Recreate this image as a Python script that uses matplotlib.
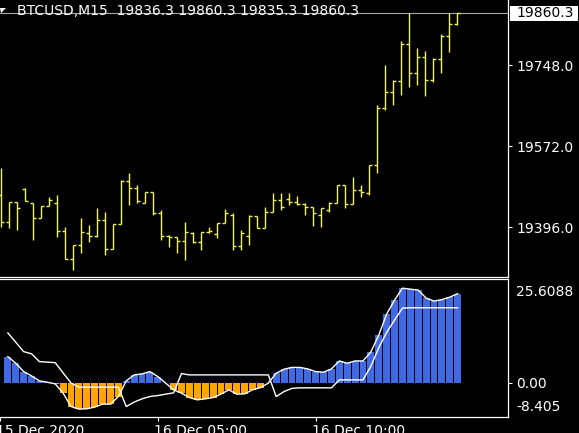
import matplotlib
matplotlib.use('Agg')
import matplotlib.pyplot as plt
import matplotlib.transforms as mtransforms
from matplotlib.patches import Rectangle, Polygon
import numpy as np

symbol = "BTCUSD,M15"

opens = [19466.1, 19407.5, 19450.9, 19479.1, 19448.7, 19416.1, 19442.2, 19448.7, 19387.9, 19327.2,
         19357.6, 19383.6, 19377.1, 19411.8, 19348.9, 19403.1, 19496.4, 19481.2, 19448.7, 19472.6,
         19427.0, 19377.1, 19374.9, 19366.2, 19383.6, 19364.1, 19385.8, 19381.4, 19405.3, 19422.7,
         19355.4, 19377.1, 19420.5, 19394.4, 19429.2, 19455.2, 19457.4, 19450.9, 19446.5, 19440.0,
         19422.7, 19433.5, 19448.7, 19487.8, 19446.5, 19476.9, 19470.4, 19531.2, 19654.8, 19689.6,
         19713.4, 19793.7, 19730.8, 19765.5, 19715.6, 19761.2, 19811.1, 19836.3]
highs = [19524.6, 19450.9, 19450.9, 19481.2, 19448.7, 19442.2, 19461.7, 19466.1, 19396.6, 19357.6,
         19416.1, 19401.0, 19437.8, 19429.2, 19403.1, 19498.6, 19513.8, 19487.8, 19472.6, 19472.6,
         19433.5, 19379.3, 19374.9, 19407.5, 19385.8, 19385.8, 19396.6, 19405.3, 19435.7, 19427.0,
         19390.1, 19422.7, 19420.5, 19440.0, 19470.4, 19470.4, 19470.4, 19463.9, 19448.7, 19440.0,
         19437.8, 19450.9, 19487.8, 19487.8, 19505.1, 19487.8, 19531.2, 19661.4, 19748.2, 19715.6,
         19800.2, 19860.3, 19785.0, 19778.5, 19763.3, 19815.4, 19860.3, 19860.3]
lows = [19396.6, 19394.4, 19390.1, 19453.0, 19368.4, 19416.1, 19442.2, 19374.9, 19327.2, 19303.3,
        19340.2, 19364.1, 19374.9, 19335.9, 19348.9, 19403.1, 19444.4, 19448.7, 19448.7, 19422.7,
        19368.4, 19353.2, 19340.2, 19325.0, 19361.9, 19346.7, 19383.6, 19372.7, 19405.3, 19346.7,
        19346.7, 19357.6, 19394.4, 19394.4, 19429.2, 19433.5, 19444.4, 19444.4, 19422.7, 19398.8,
        19396.6, 19429.2, 19448.7, 19437.8, 19446.5, 19461.7, 19466.1, 19513.8, 19650.5, 19661.4,
        19683.1, 19700.4, 19704.8, 19680.9, 19711.3, 19730.8, 19776.4, 19835.3]
closes = [19407.5, 19450.9, 19437.8, 19453.0, 19416.1, 19442.2, 19455.2, 19387.9, 19327.2, 19357.6,
          19385.8, 19377.1, 19411.8, 19348.9, 19403.1, 19496.4, 19481.2, 19453.0, 19472.6, 19427.0,
          19377.1, 19374.9, 19366.2, 19385.8, 19364.1, 19385.8, 19387.9, 19405.3, 19427.0, 19355.4,
          19383.6, 19420.5, 19394.4, 19429.2, 19455.2, 19440.0, 19450.9, 19446.5, 19440.0, 19427.0,
          19437.8, 19448.7, 19487.8, 19446.5, 19476.9, 19472.6, 19531.2, 19654.8, 19689.6, 19713.4,
          19793.7, 19730.8, 19765.5, 19715.6, 19761.2, 19811.1, 19836.3, 19860.3]

hist = [6.43, 4.80, 2.73, 1.67, 0.44, 0.10, -0.30, -2.59, -5.89, -6.53,
        -6.45, -6.03, -5.30, -5.30, -3.42, 0.44, 1.92, 2.17, 2.73, 1.50,
        -0.12, -1.77, -2.59, -3.67, -4.24, -3.99, -3.67, -2.83, -1.77, -2.83,
        -2.76, -1.77, -1.21, -0.12, 2.34, 3.33, 3.77, 3.77, 3.40, 2.73,
        2.59, 3.40, 5.37, 4.80, 5.37, 5.37, 7.59, 11.77, 16.95, 20.39,
        23.35, 23.10, 22.86, 20.89, 20.15, 20.52, 21.13, 21.99]
signal = [12.27, 9.98, 7.66, 7.14, 5.20, 5.07, 4.95, 2.41, -0.10, -1.10,
          -1.10, -1.10, -1.10, -1.10, -1.10, -5.89, -4.80, -3.99, -3.42, -3.18,
          -2.83, -2.51, 2.24, 1.92, 1.92, 1.92, 1.92, 1.92, 1.92, 1.92,
          1.92, 1.92, 1.92, 1.92, -3.42, -2.19, -1.40, -1.28, -1.28, -1.28,
          -1.28, -1.28, 0.69, 0.69, 0.69, 0.69, 4.06, 8.65, 12.44, 15.47,
          18.42, 18.50, 18.50, 18.50, 18.50, 18.50, 18.50, 18.50]

price_ticks = [19748.0, 19572.0, 19396.0]
price_range = (19288.8, 19889.2)
ind_max, ind_min = 25.6088, -8.405
time_ticks = [-1, 19, 39]
time_labels = ["15 Dec 2020", "16 Dec 05:00", "16 Dec 10:00"]

W, H = 579, 433
BAR = '#F2F25A'
BLUE = '#4169E1'
ORANGE = '#FFA500'

fig = plt.figure(figsize=(W / 100, H / 100), dpi=100, facecolor='black')
ax1 = fig.add_axes([0, 1 - 276.7 / H, 508 / W, 276.7 / H])
ax2 = fig.add_axes([0, 1 - 416.7 / H, 508 / W, (416.7 - 279) / H])

for ax in (ax1, ax2):
    ax.set_facecolor('black')
    for s in ('left', 'top', 'right', 'bottom'):
        ax.spines[s].set_color('white')
        ax.spines[s].set_linewidth(0.9)
    ax.spines['left'].set_visible(False)
    ax.set_xlim(-0.125, 63.375)
    ax.yaxis.tick_right()
    ax.tick_params(colors='white', labelcolor='white', labelsize=10, length=3, width=0.8, pad=3)
ax1.spines['top'].set_visible(False)

n = len(opens)
x = np.arange(n)
# price bars
ax1.vlines(x, lows, highs, color=BAR, lw=1.0)
ax1.hlines(opens, x - 0.375, x, color=BAR, lw=1.0)
ax1.hlines(closes, x, x + 0.375, color=BAR, lw=1.0)
ax1.axhline(closes[-1], color='#A8A8A8', lw=0.8, zorder=1)
ax1.set_ylim(*price_range)
ax1.set_yticks(price_ticks)
ax1.set_yticklabels([f'{v:.1f}' for v in price_ticks])
ax1.set_xticks([])

# current price box
_, ypix = ax1.transData.transform((0, closes[-1]))
fig.patches.append(Rectangle((510, ypix - 7.5), 68, 15, transform=mtransforms.IdentityTransform(),
                             facecolor='white', edgecolor='none', figure=fig))
fig.text(516.5 / W, ypix / H, f'{closes[-1]:.1f}', color='black', fontsize=10,
         ha='left', va='center')

# indicator
hist_arr = np.array(hist)
cols = [BLUE if v >= 0 else ORANGE for v in hist_arr]
ax2.bar(x, hist_arr, width=0.875, color=cols, edgecolor='none', zorder=2)
ax2.plot(x, hist_arr, color='white', lw=1.0, zorder=3)
ax2.plot(x, signal, color='white', lw=1.0, zorder=3)
ax2.set_ylim(ind_min, ind_max)
ax2.set_yticks([0])
ax2.set_yticklabels(['0.00'])
lab_tr = mtransforms.blended_transform_factory(ax2.transAxes, ax2.transData)
ax2.text(1.0, ind_max, f'{ind_max:.4f}', color='white', fontsize=10, ha='left', va='center',
         transform=lab_tr + mtransforms.ScaledTranslation(8.4 / 100, -12.7 / 100, fig.dpi_scale_trans),
         clip_on=False)
ax2.text(1.0, ind_min, f'{ind_min:.3f}', color='white', fontsize=10, ha='left', va='center',
         transform=lab_tr + mtransforms.ScaledTranslation(8.4 / 100, 9.7 / 100, fig.dpi_scale_trans),
         clip_on=False)
ax2.set_xticks(time_ticks)
ax2.set_xticklabels(time_labels, ha='left')
ax2.tick_params(axis='x', length=3, pad=2)
shift = mtransforms.ScaledTranslation(-3.5 / 100, 0, fig.dpi_scale_trans)
for lbl in ax2.get_xticklabels():
    lbl.set_transform(lbl.get_transform() + shift)

# title
fig.text(17 / W, 1 - 11 / H, f"{symbol}  {opens[-1]:.1f} {highs[-1]:.1f} {lows[-1]:.1f} {closes[-1]:.1f}",
         color='white', fontsize=10, ha='left', va='center')
fig.patches.append(Polygon([(0, H - 8), (6, H - 8), (1, H - 13)], closed=True,
                           transform=mtransforms.IdentityTransform(), facecolor='white',
                           edgecolor='none', figure=fig))

fig.savefig('out.png', dpi=100, facecolor='black')
